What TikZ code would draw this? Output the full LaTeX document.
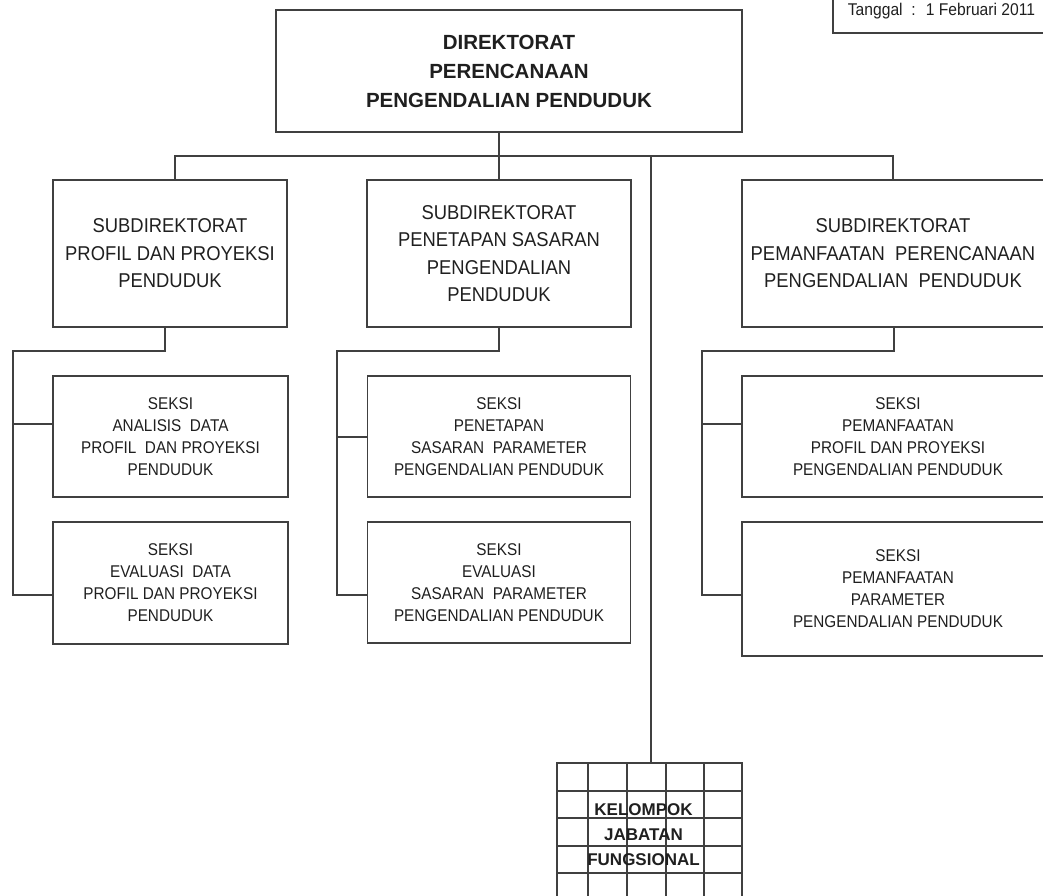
\documentclass[tikz,border=0pt]{standalone}
\usepackage{fontspec}
\setmainfont{Liberation Sans}
\newfontfamily\headfont[FakeStretch=1.0]{Liberation Sans}
\newfontfamily\subfont[FakeStretch=0.92]{Liberation Sans}
\newfontfamily\seksifont[FakeStretch=0.9]{Liberation Sans}
\newfontfamily\datefont[FakeStretch=0.92]{Liberation Sans}
\definecolor{linec}{gray}{0.25}
\definecolor{txtc}{gray}{0.12}

\tikzset{
  box/.style={draw=linec, line width=1.3pt, inner sep=0pt, outer sep=0pt,
              align=center, text=txtc},
  headbox/.style={box, font=\headfont\bfseries\fontsize{20.5}{29}\selectfont},
  subbox/.style={box, font=\subfont\fontsize{20}{27.5}\selectfont},
  seksibox/.style={box, font=\seksifont\fontsize{17}{22}\selectfont},
  datebox/.style={box, font=\datefont\fontsize{17}{20}\selectfont},
  gridbox/.style={box},
  gridlabel/.style={inner sep=0pt, align=center, text=txtc,
                    font=\bfseries\fontsize{17}{25}\selectfont},
  link/.style={draw=linec, line width=1.3pt},
  gridline/.style={draw=linec, line width=1.1pt}
}

\begin{document}
\begin{tikzpicture}[x=1pt, y=-1pt]
\useasboundingbox (0,0) rectangle (1043,895);

% top level
\node[headbox, minimum width=466pt, minimum height=122pt] (dir) at (509,71)
  {DIREKTORAT\\PERENCANAAN\\PENGENDALIAN PENDUDUK};

% date stamp in the corner
\node[datebox, minimum width=217pt, minimum height=43pt] (tgl) at (941.5,11.5)
  {Tanggal~~:~ 1 Februari 2011};

% subdirectorates
\node[subbox, minimum width=234pt, minimum height=147pt] (sub1) at (170,253.5)
  {SUBDIREKTORAT\\PROFIL DAN PROYEKSI\\PENDUDUK};
\node[subbox, minimum width=264pt, minimum height=147pt] (sub2) at (499,253.5)
  {SUBDIREKTORAT\\PENETAPAN SASARAN\\PENGENDALIAN\\PENDUDUK};
\node[subbox, minimum width=302pt, minimum height=147pt] (sub3) at (893,253.5)
  {SUBDIREKTORAT\\PEMANFAATAN~ PERENCANAAN\\PENGENDALIAN~ PENDUDUK};

% sections
\node[seksibox, minimum width=235pt, minimum height=121pt] (sk11) at (170.5,436.5)
  {SEKSI\\ANALISIS~ DATA\\PROFIL~ DAN PROYEKSI\\PENDUDUK};
\node[seksibox, minimum width=235pt, minimum height=122pt] (sk12) at (170.5,583)
  {SEKSI\\EVALUASI~ DATA\\PROFIL DAN PROYEKSI\\PENDUDUK};
\node[seksibox, minimum width=263pt, minimum height=121pt] (sk21) at (499,436.5)
  {SEKSI\\PENETAPAN\\SASARAN~ PARAMETER\\PENGENDALIAN PENDUDUK};
\node[seksibox, minimum width=263pt, minimum height=121pt] (sk22) at (499,582.5)
  {SEKSI\\EVALUASI\\SASARAN~ PARAMETER\\PENGENDALIAN PENDUDUK};
\node[seksibox, minimum width=312pt, minimum height=121pt] (sk31) at (898,436.5)
  {SEKSI\\PEMANFAATAN\\PROFIL DAN PROYEKSI\\PENGENDALIAN PENDUDUK};
\node[seksibox, minimum width=312pt, minimum height=134pt] (sk32) at (898,589)
  {SEKSI\\PEMANFAATAN\\PARAMETER\\PENGENDALIAN PENDUDUK};

% functional group: ruled table with the label on top
\foreach \gx in {588,627,666,704} \draw[gridline] (\gx,763) -- (\gx,905);
\foreach \gy in {791,818,846,873} \draw[gridline] (557,\gy) -- (742,\gy);
\node[gridbox, minimum width=185pt, minimum height=142pt] (grid) at (649.5,834) {};
\node[gridlabel] (gridtxt) at (643.5,835) {KELOMPOK\\JABATAN\\FUNGSIONAL};

% main bus
\coordinate (busL) at (175,156);
\coordinate (busR) at (893,156);
\coordinate (trunk) at (499,156);
\coordinate (fung) at (651,156);
\draw[link] (busL |- sub1.north) -- (busL) -- (busR) -- (sub3.north);
\draw[link] (trunk |- dir.south) -- (trunk |- sub2.north);
\draw[link] (fung) -- (fung |- grid.north);

% column 1 branches
\coordinate (k1) at (165,351);
\coordinate (v1) at (13,351);
\coordinate (b1a) at (13,424);
\coordinate (b1b) at (13,595);
\draw[link] (sub1.south -| k1) -- (k1) -- (v1) -- (b1b) -- (b1b -| sk12.west);
\draw[link] (b1a) -- (b1a -| sk11.west);

% column 2 branches
\coordinate (k2) at (499,351);
\coordinate (v2) at (337,351);
\coordinate (b2a) at (337,437);
\coordinate (b2b) at (337,595);
\draw[link] (sub2.south -| k2) -- (k2) -- (v2) -- (b2b) -- (b2b -| sk22.west);
\draw[link] (b2a) -- (b2a -| sk21.west);

% column 3 branches
\coordinate (k3) at (894,351);
\coordinate (v3) at (702,351);
\coordinate (b3a) at (702,424);
\coordinate (b3b) at (702,595);
\draw[link] (sub3.south -| k3) -- (k3) -- (v3) -- (b3b) -- (b3b -| sk32.west);
\draw[link] (b3a) -- (b3a -| sk31.west);
\end{tikzpicture}
\end{document}
